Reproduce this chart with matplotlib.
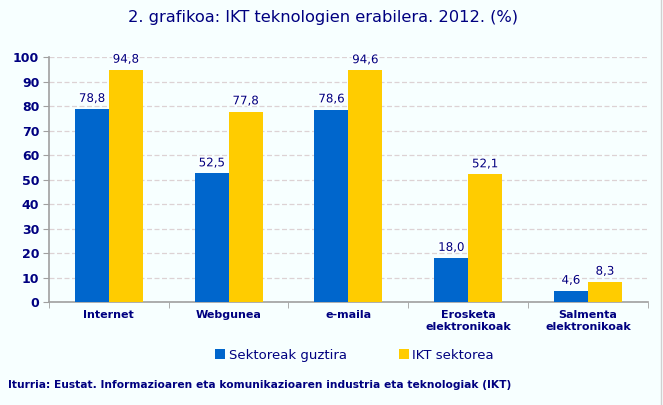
import numpy as np
import matplotlib.pyplot as plt
import matplotlib.patheffects as pe
from matplotlib.lines import Line2D

# Data
categories = ['Internet', 'Webgunea', 'e-maila', 'Erosketa\nelektronikoak', 'Salmenta\nelektronikoak']
sektoreak_guztira = [78.8, 52.5, 78.6, 18.0, 4.6]
ikt_sektorea = [94.8, 77.8, 94.6, 52.1, 8.3]
series_names = ['Sektoreak guztira', 'IKT sektorea']

navy = '#000080'
blue = '#0066CC'
yellow = '#FFCC00'
bg = '#F7FFFF'

fig = plt.figure(figsize=(6.63, 4.05), dpi=100, facecolor=bg)
ax = fig.add_axes([0.0739, 0.254, 0.9031, 0.605])
ax.set_facecolor(bg)

x = np.arange(len(categories))
w = 0.283
b1 = ax.bar(x - w / 2, sektoreak_guztira, w, color=blue, label=series_names[0], zorder=3)
b2 = ax.bar(x + w / 2, ikt_sektorea, w, color=yellow, label=series_names[1], zorder=3)

# value labels with white halo
for bars, vals in ((b1, sektoreak_guztira), (b2, ikt_sektorea)):
    for bar, v in zip(bars, vals):
        ax.annotate(f'{v:.1f}'.replace('.', ','),
                    (bar.get_x() + bar.get_width() / 2, bar.get_height()),
                    xytext=(0, 3), textcoords='offset points',
                    ha='center', va='bottom', fontsize=8.5, color=navy,
                    path_effects=[pe.withStroke(linewidth=2, foreground='white')],
                    zorder=4)

ax.set_xlim(-0.5, len(categories) - 0.5)
ax.set_ylim(0, 100)
ax.set_yticks(range(0, 101, 10))
ax.yaxis.grid(True, color='#DDD2D4', linestyle=(0, (4, 2)), linewidth=0.9, zorder=0)

# x ticks: labels at centres, tick marks at category boundaries
ax.set_xticks(x)
ax.set_xticklabels(categories, fontsize=8, fontweight='bold', color=navy, linespacing=1.2)
ax.tick_params(axis='x', length=0, pad=6)
ax.set_xticks(np.arange(-0.5, len(categories)), minor=True)
ax.tick_params(axis='x', which='minor', length=4, color='#A0A0A0', direction='out')
ax.tick_params(axis='y', length=4, color='#A0A0A0', labelsize=9, labelcolor=navy, pad=3)
for lab in ax.get_yticklabels():
    lab.set_fontweight('bold')

for s in ('top', 'right'):
    ax.spines[s].set_visible(False)
for s in ('left', 'bottom'):
    ax.spines[s].set_color('#A0A0A0')
    ax.spines[s].set_linewidth(1.2)

fig.text(0.487, 0.957, '2. grafikoa: IKT teknologien erabilera. 2012. (%)',
         ha='center', va='center', fontsize=11.7, color=navy)

fig.legend(handles=[b1, b2], loc='center', bbox_to_anchor=(0.535, 0.123), ncol=2,
           frameon=False, fontsize=9.5, handlelength=0.7, handleheight=0.7,
           handletextpad=0.3, columnspacing=4.0, labelcolor=navy)

fig.text(0.012, 0.049,
         'Iturria: Eustat. Informazioaren eta komunikazioaren industria eta teknologiak (IKT)',
         ha='left', va='center', fontsize=7.65, fontweight='bold', color=navy)

# thin border at right edge of the picture
fig.add_artist(Line2D([0.997, 0.997], [0, 1], transform=fig.transFigure,
                      color='#D0D0D0', linewidth=1))

fig.savefig('out.png', dpi=100, facecolor=bg)
